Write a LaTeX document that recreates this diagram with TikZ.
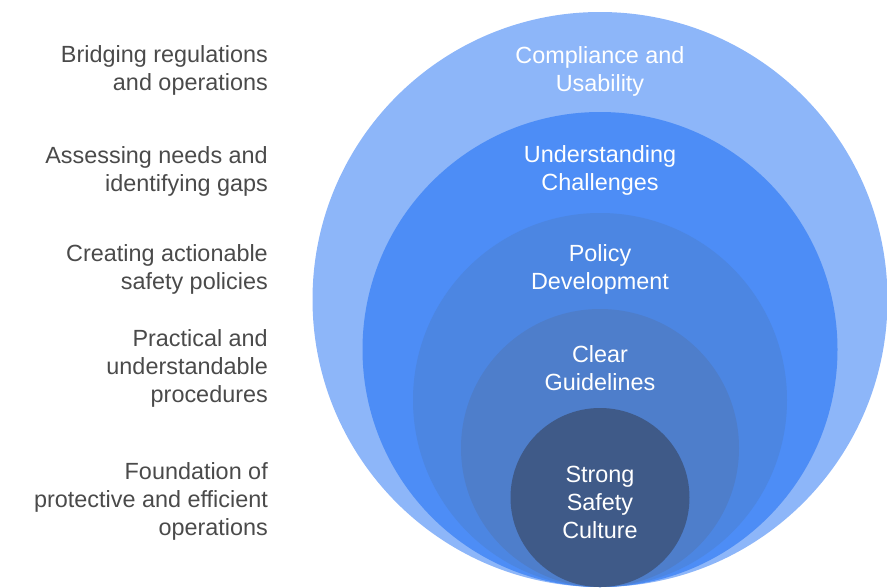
\documentclass[tikz,border=0pt]{standalone}
\usepackage{fontspec}
\setmainfont{Liberation Sans}
\definecolor{ring1}{HTML}{8DB6F9}
\definecolor{ring2}{HTML}{4D8DF6}
\definecolor{ring3}{HTML}{4C86E2}
\definecolor{ring4}{HTML}{4E7ECB}
\definecolor{ring5}{HTML}{3F5A88}
\definecolor{sidetext}{HTML}{4A4A4A}
\tikzset{
  ringlabel/.style={text=white, align=center, inner sep=0pt, font=\fontsize{23.4}{28}\selectfont},
  sidelabel/.style={text=sidetext, align=right, anchor=east, inner sep=0pt, font=\fontsize{23.4}{28}\selectfont},
}
\begin{document}
\begin{tikzpicture}[x=1pt,y=-1pt]
\useasboundingbox (0,0) rectangle (887,587);
\begin{scope}
\clip (0,0) rectangle (887,587);
\fill[ring1] (600,299.5) circle (287.5);
\fill[ring2] (600,349.5) circle (237.5);
\fill[ring3] (600,400) circle (187);
\fill[ring4] (600,448) circle (139);
\fill[ring5] (600,497.5) circle (89.5);
\end{scope}
\node[ringlabel] (c1) at (600,71) {Compliance and\\Usability};
\node[ringlabel] (c2) at (600,170) {Understanding\\Challenges};
\node[ringlabel] (c3) at (600,269) {Policy\\Development};
\node[ringlabel] (c4) at (600,368) {Clear\\Guidelines};
\node[ringlabel] (c5) at (600,502) {Strong\\Safety\\Culture};
\node[sidelabel] (s1) at (268,70) {Bridging regulations\\and operations};
\node[sidelabel] (s2) at (268,171) {Assessing needs and\\identifying gaps};
\node[sidelabel] (s3) at (268,269) {Creating actionable\\safety policies};
\node[sidelabel] (s4) at (268,368) {Practical and\\understandable\\procedures};
\node[sidelabel] (s5) at (268,501) {Foundation of\\protective and efficient\\operations};
\end{tikzpicture}
\end{document}
